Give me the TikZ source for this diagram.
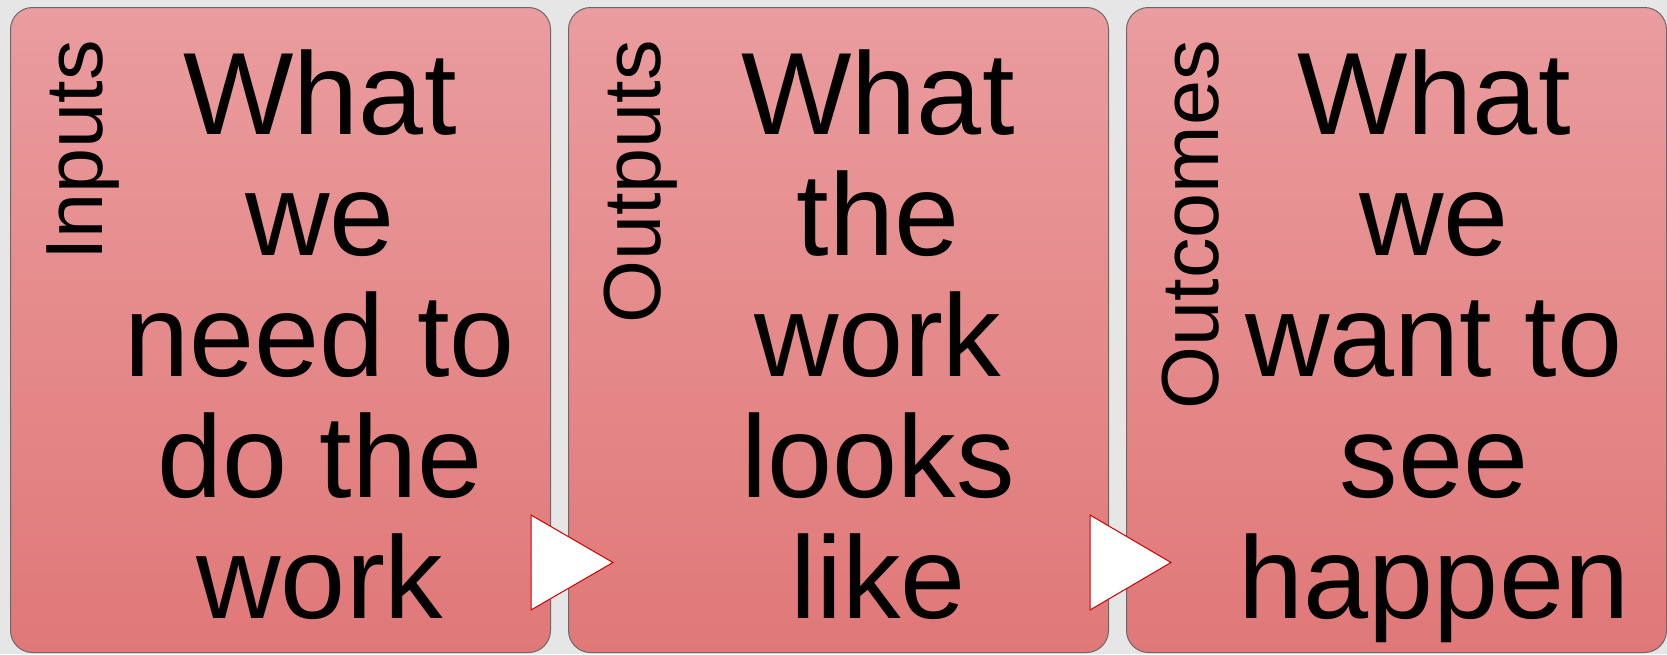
\documentclass[tikz,border=0pt]{standalone}
\usepackage{fontspec}
\setmainfont{Liberation Sans}
\usetikzlibrary{positioning}
\definecolor{boxtop}{RGB}{234,156,158}
\definecolor{boxbot}{RGB}{224,120,120}
\definecolor{bggray}{RGB}{230,230,230}
\definecolor{edgegray}{RGB}{105,105,105}
\definecolor{arrowred}{RGB}{204,0,0}

\begin{document}
\begin{tikzpicture}[x=1pt,y=-1pt,
  box/.style={draw=edgegray,line width=1pt,rounded corners=22pt,top color=boxtop,bottom color=boxbot,minimum width=540pt,minimum height=645pt,inner sep=0pt},
  lbl/.style={rotate=90,anchor=base east,inner sep=0pt,font=\fontsize{81}{81}\selectfont},
  txt/.style={anchor=north,align=center,inner sep=0pt,font=\fontsize{117}{121}\selectfont},
  tri/.style={fill=white,draw=arrowred,line width=1pt}]
\fill[bggray] (0,0) rectangle (1667,654);
\useasboundingbox (0,0) rectangle (1667,654);
% the three stages
\node[box,anchor=north west] (inbox) at (10,7) {};
\node[box,right=17pt of inbox] (outbox) {};
\node[box,right=17pt of outbox] (endbox) {};
% side labels
\node[lbl] (inlbl) at ([xshift=92pt,yshift=-33pt]inbox.north west) {Inputs};
\node[lbl] (outlbl) at ([xshift=92pt,yshift=-33pt]outbox.north west) {Outputs};
\node[lbl] (endlbl) at ([xshift=92pt,yshift=-33pt]endbox.north west) {Outcomes};
% big texts
\node[txt] (intxt) at ([xshift=310pt,yshift=-43pt]inbox.north west) {What\\we\\need to\\do the\\work};
\node[txt] (outtxt) at ([xshift=310pt,yshift=-43pt]outbox.north west) {What\\the\\work\\looks\\like};
\node[txt] (endtxt) at ([xshift=308pt,yshift=-43pt]endbox.north west) {What\\we\\want to\\see\\happen};
% arrows between stages
\filldraw[tri] ([xshift=-20pt,yshift=138pt]inbox.south east) -- ++(82pt,-47.5pt) -- ++(-82pt,-47.5pt) -- cycle;
\filldraw[tri] ([xshift=-19pt,yshift=138pt]outbox.south east) -- ++(81pt,-47.5pt) -- ++(-81pt,-47.5pt) -- cycle;
\end{tikzpicture}
\end{document}
